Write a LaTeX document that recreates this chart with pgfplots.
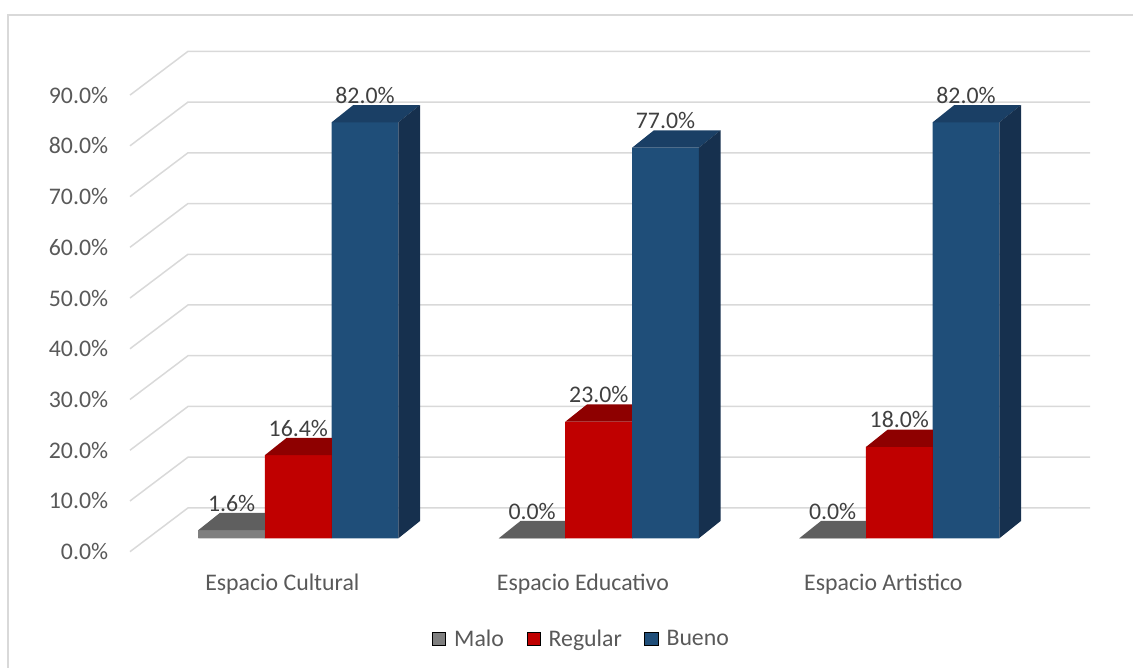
\documentclass[border=0pt]{standalone}
\usepackage{pgfplots}
\pgfplotsset{compat=1.18}
\usepackage{pgfplotstable}
\usepackage{fontspec}
\setmainfont{Carlito}

\definecolor{txt}{HTML}{595959}
\definecolor{lbl}{HTML}{404040}
\definecolor{gridc}{HTML}{D9D9D9}
\definecolor{malo}{HTML}{7F7F7F}
\definecolor{malotop}{HTML}{5F5F5F}
\definecolor{regular}{HTML}{C00000}
\definecolor{regulartop}{HTML}{8E0000}
\definecolor{bueno}{HTML}{1F4E79}
\definecolor{buenotop}{HTML}{1A3F65}
\definecolor{buenoside}{HTML}{16304E}

% x = group (0 Cultural, 1 Educativo, 2 Artistico), v = percent
\pgfplotstableread{
x v
0 1.6
1 0.0
2 0.0
}\tmalo
\pgfplotstableread{
x v
0 16.4
1 23.0
2 18.0
}\tregular
\pgfplotstableread{
x v
0 82.0
1 77.0
2 82.0
}\tbueno

% front, top and right faces of a bar, drawn from the middle of its front top edge
% #1 bar shift (pt), #2 front, #3 top, #4 side colour; \hv = bar height in pt
\newcommand\boxfaces[4]{%
  \pgfsetfillcolor{#2}%
  \pgfpathrectanglecorners{\pgfpoint{#1pt-33.35pt}{-\hv pt}}{\pgfpoint{#1pt+33.35pt}{0pt}}%
  \pgfusepath{fill}%
  \pgfsetfillcolor{#3}%
  \pgfpathmoveto{\pgfpoint{#1pt-33.35pt}{0pt}}%
  \pgfpathlineto{\pgfpoint{#1pt+33.35pt}{0pt}}%
  \pgfpathlineto{\pgfpoint{#1pt+55.05pt}{17.3pt}}%
  \pgfpathlineto{\pgfpoint{#1pt-11.65pt}{17.3pt}}%
  \pgfpathclose\pgfusepath{fill}%
  \pgfsetfillcolor{#4}%
  \pgfpathmoveto{\pgfpoint{#1pt+33.35pt}{0pt}}%
  \pgfpathlineto{\pgfpoint{#1pt+55.05pt}{17.3pt}}%
  \pgfpathlineto{\pgfpoint{#1pt+55.05pt}{17.3pt-\hv pt}}%
  \pgfpathlineto{\pgfpoint{#1pt+33.35pt}{-\hv pt}}%
  \pgfpathclose\pgfusepath{fill}%
}
\pgfdeclareplotmark{malobox}{\boxfaces{-66.7}{malo}{malotop}{malotop}}
\pgfdeclareplotmark{regularbox}{\boxfaces{0}{regular}{regulartop}{regulartop}}
\pgfdeclareplotmark{buenobox}{\boxfaces{66.7}{bueno}{buenotop}{buenoside}}

\pgfplotsset{
  front/.style={ybar, bar width=66.7pt, bar shift=#1, draw=none,
    legend image code/.code={\draw[##1] (0pt,-6.7pt) rectangle (13.4pt,6.7pt);},
    nodes near coords={\pgfmathprintnumber[fixed,fixed zerofill,precision=1]{\pgfplotspointmeta}\%},
    every node near coord/.append style={anchor=base, xshift=#1, yshift=19pt, text=lbl,
      font=\fontsize{23.8}{28}\selectfont}},
  faces/.style={only marks, mark=#1, forget plot,
    visualization depends on={\thisrow{v}*5.073 \as \hv}},
  gl/.style={gridc, line width=1.5pt, forget plot},
}

\begin{document}
\begin{tikzpicture}
\begin{axis}[
  x=300.5pt, y=5.073pt,
  xmin=-0.5601, xmax=2.6346, ymin=-2.64, ymax=96,
  enlargelimits=false, clip=false,
  axis line style={draw=none}, tick style={draw=none},
  /pgf/number format/assume math mode=true,
  tick label style={font=\fontsize{23.8}{28}\selectfont, text=txt},
  ytick={-2.64,7.36,17.36,27.36,37.36,47.36,57.36,67.36,77.36,87.36},
  yticklabels={0.0\%,10.0\%,20.0\%,30.0\%,40.0\%,50.0\%,60.0\%,70.0\%,80.0\%,90.0\%},
  xtick={-0.053,0.947,1.947},
  xticklabels={Espacio Cultural,Espacio Educativo,Espacio Artistico},
  yticklabel style={anchor=east, inner sep=0pt, xshift=-21.7pt},
  xticklabel style={anchor=base, inner sep=0pt, yshift=-39.3pt},
  legend style={at={(axis cs:0.9424,-19.85)}, anchor=center, draw=none, fill=none,
    legend columns=3, font=\fontsize{23.8}{28}\selectfont, text=txt,
    /tikz/every odd column/.append style={column sep=6.3pt},
    /tikz/every even column/.append style={column sep=20.6pt}},
]
% gridlines: front corner, back corner, back right end
\addplot[gl] coordinates {(-0.5601,-2.64) (-0.3671,5.99) (2.6346,5.99)};
\addplot[gl] coordinates {(-0.5601,7.36) (-0.3671,15.99) (2.6346,15.99)};
\addplot[gl] coordinates {(-0.5601,17.36) (-0.3671,25.99) (2.6346,25.99)};
\addplot[gl] coordinates {(-0.5601,27.36) (-0.3671,35.99) (2.6346,35.99)};
\addplot[gl] coordinates {(-0.5601,37.36) (-0.3671,45.99) (2.6346,45.99)};
\addplot[gl] coordinates {(-0.5601,47.36) (-0.3671,55.99) (2.6346,55.99)};
\addplot[gl] coordinates {(-0.5601,57.36) (-0.3671,65.99) (2.6346,65.99)};
\addplot[gl] coordinates {(-0.5601,67.36) (-0.3671,75.99) (2.6346,75.99)};
\addplot[gl] coordinates {(-0.5601,77.36) (-0.3671,85.99) (2.6346,85.99)};
\addplot[gl] coordinates {(-0.5601,87.36) (-0.3671,95.99) (2.6346,95.99)};

\addplot[front=-66.7pt, fill=malo] table[x=x, y=v] {\tmalo};
\addlegendentry{Malo}
\addplot[front=0pt, fill=regular] table[x=x, y=v] {\tregular};
\addlegendentry{Regular}
\addplot[front=66.7pt, fill=bueno] table[x=x, y=v] {\tbueno};
\addlegendentry{Bueno}
\addplot[faces=malobox] table[x=x, y=v] {\tmalo};
\addplot[faces=regularbox] table[x=x, y=v] {\tregular};
\addplot[faces=buenobox] table[x=x, y=v] {\tbueno};

\draw[gridc, line width=1.5pt] (axis cs:-0.96606,-25.567) -- (axis cs:-0.96606,103.153) -- (axis cs:2.7777,103.153);
\coordinate (bl) at (axis cs:-0.99268,-25.567);
\coordinate (tr) at (axis cs:2.7777,106.111);
\end{axis}
\pgfresetboundingbox
\useasboundingbox (bl) rectangle (tr);
\end{tikzpicture}
\end{document}
